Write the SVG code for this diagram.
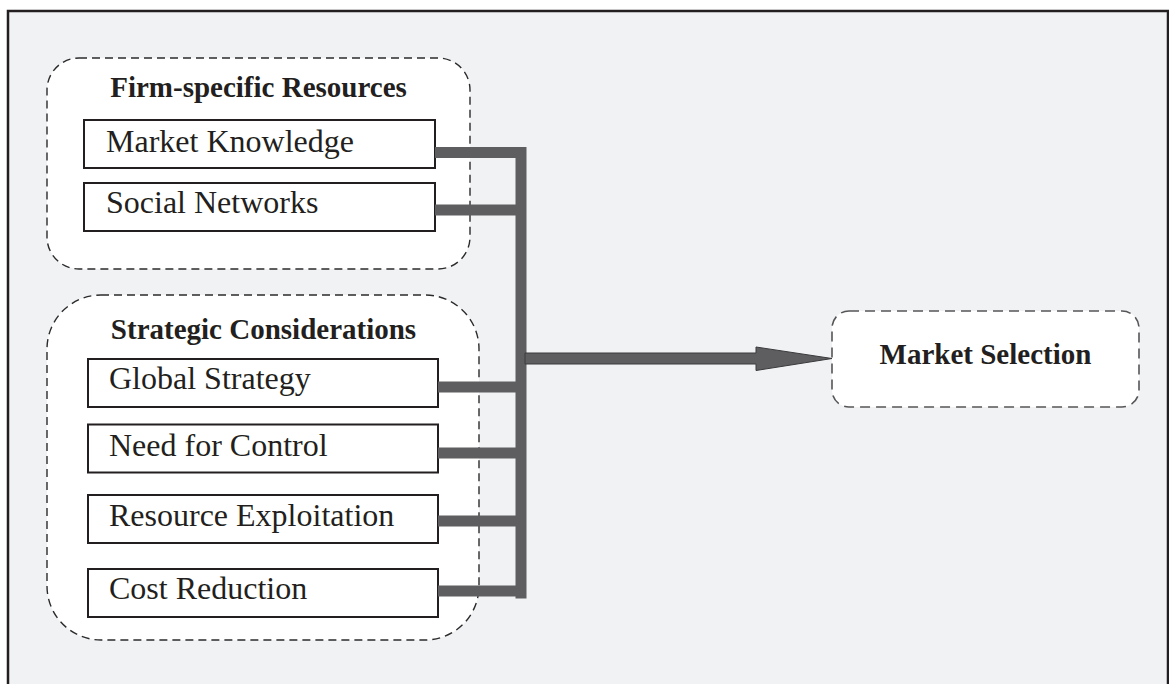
<svg xmlns="http://www.w3.org/2000/svg" width="1169" height="684" viewBox="0 0 1169 684">
  <style>
    .frame { fill: #f1f2f4; stroke: #231f20; stroke-width: 2.5; }
    .group { fill: #ffffff; stroke: #2b2b2b; stroke-width: 1.4; stroke-dasharray: 8 5; }
    .target { fill: #ffffff; stroke: #555557; stroke-width: 1.6; stroke-dasharray: 10 6; }
    .item { fill: #ffffff; stroke: #231f20; stroke-width: 2; }
    .title { font-family: "Liberation Serif", "Times New Roman", serif; font-weight: bold; font-size: 29px; fill: #231f20; text-anchor: middle; }
    .label { font-family: "Liberation Serif", "Times New Roman", serif; font-size: 32px; fill: #231f20; }
    .bar { fill: none; stroke: #5e5e60; stroke-width: 11; stroke-linecap: butt; stroke-linejoin: miter; }
    .arrow { fill: #5e5e60; stroke: #3a3a3c; stroke-width: 1; stroke-linejoin: miter; }
  </style>

  <!-- background panel -->
  <rect class="frame" x="8" y="11" width="1160" height="690"/>

  <!-- group: firm-specific resources -->
  <g id="firm-specific-resources">
    <rect class="group" x="47" y="58" width="423" height="211" rx="32" ry="32"/>
    <text class="title" x="258.5" y="96.5">Firm-specific Resources</text>
  </g>
  <g id="market-knowledge">
    <rect class="item" x="84" y="120" width="351" height="48"/>
    <text class="label" x="106" y="152">Market Knowledge</text>
  </g>
  <g id="social-networks">
    <rect class="item" x="84" y="183" width="351" height="48"/>
    <text class="label" x="106" y="213">Social Networks</text>
  </g>

  <!-- group: strategic considerations -->
  <g id="strategic-considerations">
    <rect class="group" x="47" y="295" width="432" height="345" rx="54" ry="54"/>
    <text class="title" x="263.5" y="339">Strategic Considerations</text>
  </g>
  <g id="global-strategy">
    <rect class="item" x="88" y="359" width="350" height="48"/>
    <text class="label" x="109" y="389">Global Strategy</text>
  </g>
  <g id="need-for-control">
    <rect class="item" x="88" y="424.5" width="350" height="48"/>
    <text class="label" x="109" y="455.5">Need for Control</text>
  </g>
  <g id="resource-exploitation">
    <rect class="item" x="88" y="495" width="350" height="48"/>
    <text class="label" x="109" y="525.5">Resource Exploitation</text>
  </g>
  <g id="cost-reduction">
    <rect class="item" x="88" y="569" width="350" height="48"/>
    <text class="label" x="109" y="599">Cost Reduction</text>
  </g>

  <!-- target -->
  <g id="market-selection">
    <rect class="target" x="832" y="311" width="307" height="96" rx="17" ry="17"/>
    <text class="title" x="985.5" y="363.5">Market Selection</text>
  </g>

  <!-- connectors -->
  <g id="connectors">
    <path class="bar" d="M435,152.5 H521 V598.5"/>
    <path class="bar" d="M435,210 H521"/>
    <path class="bar" d="M438,387 H521"/>
    <path class="bar" d="M438,453 H521"/>
    <path class="bar" d="M438,521 H521"/>
    <path class="bar" d="M438,591 H521"/>
    <path class="arrow" d="M525,353 H756 V347 L832,358.5 L756,370.5 V364 H525 Z"/>
  </g>
</svg>
